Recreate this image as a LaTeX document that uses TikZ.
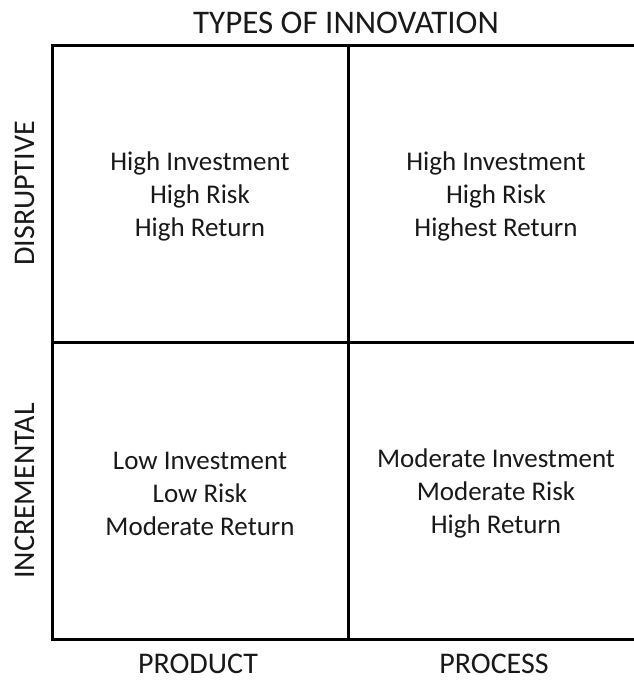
\documentclass[tikz,border=0pt]{standalone}
\usepackage{fontspec}
\setmainfont{Carlito}
\begin{document}
\begin{tikzpicture}[x=1pt,y=-1pt,
  cell/.style={draw=black,line width=3pt,minimum width=296pt,minimum height=297pt,inner sep=0pt},
  celltext/.style={inner sep=0pt,align=center,yshift=-2.5pt,
    font=\fontsize{27}{33}\selectfont,text=black!90},
  axislabel/.style={inner sep=0pt,font=\fontsize{30}{36}\selectfont,text=black!90},
  titlelabel/.style={inner sep=0pt,font=\fontsize{33}{40}\selectfont,text=black!90}]
\clip (0,0) rectangle (634,680);
\node[cell] (tl) at (200,193.5) {};
\node[cell] (tr) at (496,193.5) {};
\node[cell] (bl) at (200,491) {};
\node[cell] (br) at (496,491) {};
\node[celltext] (tltext) at (tl.center) {High Investment\\High Risk\\High Return};
\node[celltext] (trtext) at (tr.center) {High Investment\\High Risk\\Highest Return};
\node[celltext] (bltext) at (bl.center) {Low Investment\\Low Risk\\Moderate Return};
\node[celltext] (brtext) at (br.center) {Moderate Investment\\Moderate Risk\\High Return};
\node[titlelabel] (title) at (346,23) {TYPES OF INNOVATION};
\node[axislabel] (product) at (198,663.5) {PRODUCT};
\node[axislabel] (process) at (494,663.5) {PROCESS};
\node[axislabel,rotate=90] (disruptive) at (25,193.5) {DISRUPTIVE};
\node[axislabel,rotate=90] (incremental) at (25,491) {INCREMENTAL};
\end{tikzpicture}
\end{document}
